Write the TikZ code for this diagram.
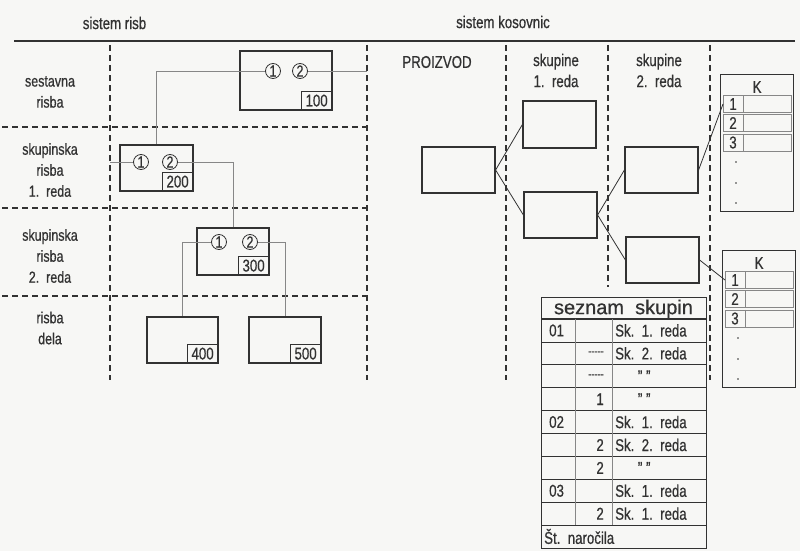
\documentclass[tikz,border=0pt]{standalone}
\usepackage{fontspec}
\setmainfont{Liberation Sans}[FakeStretch=0.78, FakeBold=0.6]
\newfontfamily\titlefont{Liberation Sans}[FakeBold=0.6]
\usetikzlibrary{positioning,calc}
\definecolor{ink}{RGB}{50,50,50}
\definecolor{paper}{RGB}{247,247,245}
\definecolor{rulegray}{RGB}{135,135,135}
\tikzset{
  sepln/.style={dash pattern=on 6pt off 4pt, line width=1.1pt, ink},
  boxn/.style={draw=ink, line width=1.2pt, minimum width=73pt, minimum height=46pt, inner sep=0pt},
  numbox/.style={draw=ink, line width=1pt, minimum width=31pt, minimum height=19pt, inner sep=0pt,
    anchor=south east, text=ink, font=\fontsize{17}{17}\selectfont},
  posc/.style={circle, draw=ink, line width=0.8pt, minimum size=15pt, inner sep=0pt, fill=paper,
    text=ink, font=\fontsize{16}{16}\selectfont},
  linkln/.style={rulegray, line width=0.8pt},
  lbl/.style={align=center, text=ink, font=\fontsize{16}{21}\selectfont},
  head/.style={align=center, text=ink, font=\fontsize{17}{21}\selectfont},
  krow/.style={draw=rulegray, line width=0.7pt, minimum width=68pt, minimum height=17pt, inner sep=0pt},
  cell/.style={text=ink, font=\fontsize{17}{17}\selectfont, inner sep=0pt},
}
\newcommand{\kosovnica}[3]{% name, left x, top y
  \node[draw=ink, line width=1.2pt, minimum width=73pt, minimum height=137pt, inner sep=0pt,
    anchor=north west] (#1) at (#2,#3) {};
  \node[head] (#1k) at ($(#1.north)+(0,13)$) {K};
  \foreach \r/\dy in {1/30,2/49,3/68.5}{
    \node[krow, anchor=west] (#1r\r) at ($(#1.north west)+(3,\dy)$) {};
    \draw[rulegray, line width=0.7pt] ($(#1r\r.north west)+(20,0)$) -- ($(#1r\r.south west)+(20,0)$);
    \node[cell] (#1n\r) at ($(#1r\r.west)+(10,0)$) {\r};
  }
  \foreach \d in {88,109,129}
    \fill[ink] ($(#1.north west)+(16,\d)$) circle (0.9pt);
}
\newcommand{\dito}{\makebox[58pt]{"\ "}}

\begin{document}
\begin{tikzpicture}[x=1pt, y=-1pt]
    \useasboundingbox (0,0) rectangle (800,551);
    \fill[paper] (0,0) rectangle (800,551);
    % Headings
    \node[head] (hrisb) at (114.5,23) {sistem risb};
    \node[head] (hkos) at (503,22) {sistem kosovnic};
    \draw[ink, line width=1.2pt] (14,41) -- (795,41);
    % Separators, drawing system
    \coordinate (lsep) at (110,45);
    \coordinate (rsep) at (367,45);
    \draw[sepln] (lsep) -- (110,380);
    \draw[sepln] (rsep) -- (367,380);
    \foreach \y in {127,208,296}
      \draw[sepln] (2,\y) -- (367,\y);
    % Row labels
    \node[lbl] (rsest) at (50,92) {sestavna\\risba};
    \node[lbl] (rsk1) at (50,170) {skupinska\\risba\\1.\ \ reda};
    \node[lbl] (rsk2) at (50,256) {skupinska\\risba\\2.\ \ reda};
    \node[lbl] (rdel) at (50,328) {risba\\dela};
    % Drawings
    \node[boxn, minimum width=92pt, minimum height=59pt] (box100) at (286,80.5) {};
    \node[numbox] (n100) at (box100.south east) {100};
    \node[boxn] (box200) at (156.5,168) {};
    \node[numbox] (n200) at (box200.south east) {200};
    \node[boxn, minimum width=72pt, minimum height=47pt] (box300) at (233,251.5) {};
    \node[numbox] (n300) at (box300.south east) {300};
    \node[boxn, minimum width=71pt] (box400) at (182.5,340) {};
    \node[numbox] (n400) at (box400.south east) {400};
    \node[boxn, minimum width=72pt] (box500) at (285,340) {};
    \node[numbox] (n500) at (box500.south east) {500};
    % Item positions
    \node[posc] (c100a) at (273,71) {1};
    \node[posc] (c100b) at (300,71) {2};
    \node[posc] (c200a) at (141,162) {1};
    \node[posc] (c200b) at (170,162) {2};
    \node[posc] (c300a) at (219,242) {1};
    \node[posc] (c300b) at (250,242) {2};
    \draw[linkln] (c100a.west) -| (box200.north);
    \draw[linkln] (c100b.east) -- (c100b.east -| rsep);
    \draw[linkln] (c200a.west) -- (c200a.west -| lsep);
    \draw[linkln] (c200b.east) -| (box300.north);
    \draw[linkln] (c300a.west) -| (box400.north);
    \draw[linkln] (c300b.east) -| (box500.north);
    % Separators, parts list system
    \foreach \x/\yb in {506/380,608/287,710/380}
      \draw[sepln] (\x,45) -- (\x,\yb);
    \node[head] (hprod) at (437,62) {PROIZVOD};
    \node[head] (hs1) at (556,70.5) {skupine\\1.\ \ reda};
    \node[head] (hs2) at (659,70.5) {skupine\\2.\ \ reda};
    % Assemblies
    \node[boxn] (prod) at (458.5,170) {};
    \node[boxn, minimum height=47pt] (s1a) at (559.5,124.5) {};
    \node[boxn] (s1b) at (560.5,215) {};
    \node[boxn] (s2a) at (661.5,170) {};
    \node[boxn] (s2b) at (662.5,260) {};
    \draw[linkln, ink] (prod.east) -- (s1a.west);
    \draw[linkln, ink] (prod.east) -- (s1b.west);
    \draw[linkln, ink] (s1b.east) -- (s2a.west);
    \draw[linkln, ink] (s1b.east) -- (s2b.west);
    % Parts lists
    \kosovnica{kos1}{720}{74}
    \kosovnica{kos2}{722}{250}
    \draw[linkln, ink] (s2a.east) -- (kos1r1.west);
    \draw[linkln, ink] (s2b.east) -- (kos2r1.west);
    % List of assemblies
    \node[draw=ink, line width=1.2pt, minimum width=165pt, minimum height=251pt, inner sep=0pt,
      anchor=north west] (seznam) at (541,297) {};
    \node[text=ink, font=\titlefont\fontsize{20}{20}\selectfont] (seznamt) at (623.5,309) {seznam\ \ skupin};
    \draw[ink, line width=1.4pt] ($(seznam.north west)+(0,22)$) -- ($(seznam.north east)+(0,22)$);
    \foreach \i in {1,...,9}
      \draw[ink, line width=0.8pt] ($(seznam.north west)+(0,22+22.9*\i)$) -- ($(seznam.north east)+(0,22+22.9*\i)$);
    \foreach \x in {575,612}
      \draw[rulegray, line width=0.7pt] (\x,319) -- (\x,525);
    \foreach \i/\a/\b/\c in {1/01//Sk.\ \ 1.\ \ reda, 2//{\fontsize{12}{12}\selectfont -{}-{}-{}-{}-}/Sk.\ \ 2.\ \ reda,
        3//{\fontsize{12}{12}\selectfont -{}-{}-{}-{}-}/\dito, 4//1/\dito, 5/02//Sk.\ \ 1.\ \ reda,
        6//2/Sk.\ \ 2.\ \ reda, 7//2/\dito, 8/03//Sk.\ \ 1.\ \ reda, 9//2/Sk.\ \ 1.\ \ reda}{
      \node[cell, anchor=west] (ta\i) at (549,{319+22.9*(\i-0.5)}) {\a};
      \node[cell, anchor=east] (tb\i) at (604,{319+22.9*(\i-0.5)}) {\b};
      \node[cell, anchor=west] (tc\i) at (615,{319+22.9*(\i-0.5)}) {\c};
    }
    \node[cell, anchor=west] (tst) at (544,536.5) {Št.\ \ naročila};
  \end{tikzpicture}
\end{document}
